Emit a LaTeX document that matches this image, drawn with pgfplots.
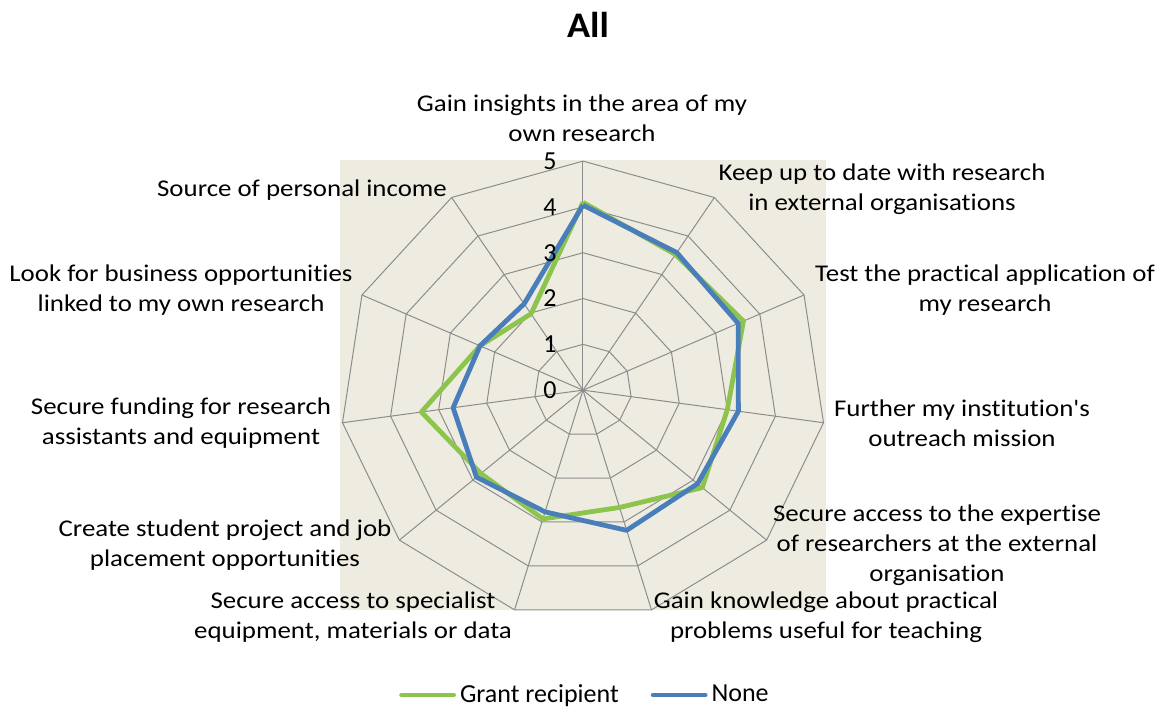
\documentclass[border=0pt]{standalone}
\usepackage{pgfplots}
\pgfplotsset{compat=1.18}
\usepackage{pgfplotstable}
\usepackage{fontspec}
\setmainfont{Carlito}[Ligatures={NoCommon}]
\definecolor{bgbeige}{HTML}{EEECE1}
\definecolor{gridc}{HTML}{8C8C8C}
\definecolor{cgreen}{HTML}{8DC44E}
\definecolor{cblue}{HTML}{4A7EBB}
\pgfplotstableread{
k green blue
0 4.10 4.04
1 3.52 3.57
2 3.63 3.51
3 3.00 3.23
4 3.25 3.12
5 2.67 3.19
6 2.93 2.77
7 2.78 2.90
8 3.36 2.70
9 2.33 2.33
10 1.98 2.24
11 4.10 4.04
}\radardata
\newcommand\lab[3]{\node[lbl] at ({#1*0.5pt},{(709-#2)*0.5pt}) {#3};}
\begin{document}
\begin{tikzpicture}[lbl/.style={align=center,inner sep=0pt,xscale=1.12,transform shape,font=\fontsize{12}{15}\selectfont}]
\path[use as bounding box] (0,0) rectangle (582pt,354.5pt);
\begin{axis}[
  at={(170pt,49.5pt)}, anchor=south west,
  scale only axis, width=243pt, height=224.9pt,
  xmin=-5, xmax=5, ymin=-4.8, ymax=5.02,
  axis line style={draw=none}, ticks=none,
  axis background/.style={fill=bgbeige},
  clip=false,
  legend columns=2,
  legend style={at={(0.506,-0.189)}, anchor=center, draw=none, fill=none,
    font=\fontsize{13}{15}\selectfont,
    /tikz/every even column/.append style={column sep=14pt}},
  legend image code/.code={\draw[#1, line width=2.4pt, line cap=round] (0pt,0pt) -- (26pt,0pt);},
]
\pgfplotsinvokeforeach{1,...,5}{
  \addplot[gridc, line width=0.5pt, domain=0:360, samples=12, forget plot] ({#1*sin(x)},{#1*cos(x)});
}
\pgfplotsinvokeforeach{0,...,10}{
  \draw[gridc, line width=0.5pt] (axis cs:0,0) -- (axis cs:{5*sin(#1*360/11)},{5*cos(#1*360/11)});
}
\addplot[cgreen, line width=2.4pt, line join=round, no markers] table[x expr={\thisrow{green}*sin(\thisrow{k}*360/11)}, y expr={\thisrow{green}*cos(\thisrow{k}*360/11)}] {\radardata};
\addlegendentry{Grant recipient}
\addplot[cblue, line width=2.4pt, line join=round, no markers] table[x expr={\thisrow{blue}*sin(\thisrow{k}*360/11)}, y expr={\thisrow{blue}*cos(\thisrow{k}*360/11)}] {\radardata};
\addlegendentry{None}
\pgfplotsinvokeforeach{0,...,5}{
  \node[anchor=east, inner sep=0pt, xshift=-13pt, font=\fontsize{13}{15}\selectfont] at (axis cs:0,#1) {#1};
}
\end{axis}
\node[inner sep=0pt, xscale=1.06, transform shape, font=\fontsize{18}{22}\selectfont\bfseries] at ({588*0.5pt},{(709-25)*0.5pt}) {All};
\lab{582}{118.5}{Gain insights in the area of my\\own research}
\lab{882}{189}{Keep up to date with research\\in external organisations}
\lab{985}{290}{Test the practical application of\\my research}
\lab{962}{423.5}{Further my institution\textquotesingle s\\outreach mission}
\lab{937}{545.5}{Secure access to the expertise\\of researchers at the external\\organisation}
\lab{826}{617.5}{Gain knowledge about practical\\problems useful for teaching}
\lab{353}{617.5}{Secure access to specialist\\equipment, materials or data}
\lab{225}{545}{Create student project and job\\placement opportunities}
\lab{181}{423}{Secure funding for research\\assistants and equipment}
\lab{181}{290}{Look for business opportunities\\linked to my own research}
\lab{302}{190}{Source of personal income}
\end{tikzpicture}
\end{document}
